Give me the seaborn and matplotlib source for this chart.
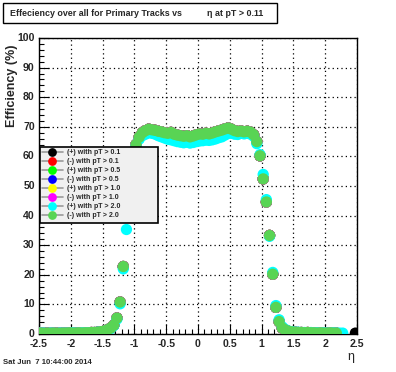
import numpy as np
import pandas as pd
import matplotlib
matplotlib.use("Agg")
import matplotlib.pyplot as plt
import seaborn as sns
from matplotlib.lines import Line2D
from matplotlib.patches import Rectangle
from matplotlib.ticker import MultipleLocator

# eta bin centres (100 bins of 0.05 between -2.5 and 2.5)
eta_bins = np.linspace(-2.475, 2.475, 100)

# (-) with pT > 2.0  (drawn last, on top)
eff_neg_pt20 = [
    0.3, 0.2, 0.3, 0.2, 0.3, 0.3, 0.2, 0.3, 0.3, 0.4, 0.3, 0.3, 0.4, 0.3, 0.4,
    0.4, 0.5, 0.5, 0.6, 0.8, 1.0, 1.4, 2.0, 3.0, 5.4, 10.8, 22.8, 40.0, 49.0, 59.0, 64.0, 66.5,
    68.0, 68.7, 69.2, 69.0, 68.8, 68.5, 68.3, 68.0, 67.8, 68.1, 67.5, 67.2, 67.0, 66.8, 67.0, 66.6,
    66.9, 67.3, 67.6, 67.5, 67.8, 67.6, 67.9, 68.3, 68.6, 68.9, 69.3, 69.6, 69.2, 68.7, 68.4, 68.6,
    68.3, 68.5, 68.2, 67.3,
    65.0, 60.2, 52.4, 44.6, 33.3, 20.2, 9.0, 4.2, 2.0, 1.3, 0.9, 0.7,
    0.6, 0.5, 0.5, 0.4, 0.5, 0.4, 0.4, 0.3, 0.4, 0.3, 0.3, 0.4, 0.3, 0.3,
    np.nan, np.nan, np.nan, np.nan, np.nan, np.nan,
]

# (+) with pT > 2.0
eff_pos_pt20 = [
    0.3, 0.3, 0.2, 0.3, 0.3, 0.2, 0.3, 0.3, 0.3, 0.3, 0.4, 0.3, 0.3, 0.4, 0.4,
    0.4, 0.4, 0.5, 0.6, 0.7, 0.9, 1.3, 1.8, 2.8, 5.0, 10.2, 22.0, 35.3, 48.0, 58.5, 63.5, 65.8,
    67.0, 67.5, 68.0, 67.8, 67.5, 67.0, 66.6, 66.2, 65.8, 65.6, 65.3, 65.0, 64.8, 64.6, 64.8, 64.5,
    64.7, 65.0, 65.2, 65.3, 65.5, 65.4, 65.6, 65.9, 66.3, 66.6, 67.2, 67.8, 67.8, 67.5, 67.4, 67.8,
    67.6, 67.9, 67.5, 66.8,
    64.3, 60.6, 53.9, 45.4, 33.0, 20.8, 9.6, 4.8, 2.4, 1.5, 1.0, 0.8,
    0.6, 0.6, 0.5, 0.5, 0.4, 0.5, 0.4, 0.4, 0.3, 0.4, 0.3, 0.3, 0.4, 0.3, 0.3, 0.3,
    np.nan, np.nan, np.nan, np.nan,
]

# lower pT cuts sit underneath the pT > 2.0 points
eff_low_pt = list(eff_neg_pt20)
eff_pos_pt01 = eff_low_pt[:99] + [0.3]

series_labels = [
    "(+) with pT > 0.1", "(-) with pT > 0.1",
    "(+) with pT > 0.5", "(-) with pT > 0.5",
    "(+) with pT > 1.0", "(-) with pT > 1.0",
    "(+) with pT > 2.0", "(-) with pT > 2.0",
]
series_colors = ["#000000", "#ff0000", "#00ff00", "#0000ff",
                 "#ffff00", "#ff00ff", "#00ffff", "#59d454"]
series_values = [eff_pos_pt01, eff_low_pt, eff_low_pt, eff_low_pt,
                 eff_low_pt, eff_low_pt, eff_pos_pt20, eff_neg_pt20]

frames = []
for lab, vals in zip(series_labels, series_values):
    frames.append(pd.DataFrame({"eta": eta_bins, "eff": vals, "series": lab}))
df = pd.concat(frames, ignore_index=True).dropna()

sns.set_theme(style="white")
plt.rcParams['font.family'] = ['Liberation Sans', 'DejaVu Sans']

W, H = 396, 372
fig = plt.figure(figsize=(W / 100, H / 100), dpi=100)
fig.patch.set_facecolor("white")
ax = fig.add_axes([39 / W, 1 - 334 / H, (357 - 39) / W, (334 - 38) / H])

sns.scatterplot(data=df, x="eta", y="eff", hue="series", hue_order=series_labels,
                palette=series_colors, s=66, linewidth=0, legend=False, ax=ax, zorder=3)

ax.set_xlim(-2.5, 2.5)
ax.set_ylim(0, 100)
ax.xaxis.set_major_locator(MultipleLocator(0.5))
ax.xaxis.set_minor_locator(MultipleLocator(0.1))
ax.yaxis.set_major_locator(MultipleLocator(10))
ax.yaxis.set_minor_locator(MultipleLocator(2))
ax.tick_params(which="both", direction="in", color="black", width=0.8,
               bottom=True, left=True, top=False, right=False)
ax.tick_params(which="major", length=7)
ax.tick_params(which="minor", length=3.5)
ax.tick_params(axis="y", which="major", pad=3)
ax.tick_params(axis="x", which="major", pad=3.5)
ax.set_xticks(ax.get_xticks())
ax.set_xticklabels([f"{t:g}" for t in ax.get_xticks()], fontsize=7.6, fontweight="bold")
ax.set_yticks(ax.get_yticks())
ax.set_yticklabels([f"{t:g}" for t in ax.get_yticks()], fontsize=7.6, fontweight="bold",
                   va="center")
ax.set_xlim(-2.5, 2.5)
ax.set_ylim(0, 100)
ax.grid(True, which="major", color="black", linestyle=(0, (1, 2.5)), linewidth=0.9)
ax.set_axisbelow(True)
for sp in ax.spines.values():
    sp.set_color("black")
    sp.set_linewidth(1)
ax.set_xlabel("")
ax.set_ylabel("")
# lift the "0" on the y axis a little so it clears "-2.5"
ax.get_yticklabels()[0].set_va("bottom")

# axis titles placed like ROOT (right / top aligned)
fig.text(351 / W, 1 - 357 / H, "η", ha="center", va="center", fontsize=9)
fig.text(12 / W, 1 - 86 / H, "Efficiency (%)", rotation=90, ha="center", va="center",
         fontsize=9, fontweight="bold")

# title box
fig.patches.append(Rectangle((3 / W, 1 - 23 / H), 274 / W, 20 / H, transform=fig.transFigure,
                             facecolor="white", edgecolor="black", linewidth=1, zorder=4))
fig.text(10 / W, 1 - 13 / H, "Effeciency over all for Primary Tracks vs", ha="left", va="center",
         fontsize=6.4, fontweight="bold", zorder=5)
fig.text(207 / W, 1 - 13 / H, "η at pT > 0.11", ha="left", va="center",
         fontsize=6.4, fontweight="bold", zorder=5)

# legend box
fig.patches.append(Rectangle((40 / W, 1 - 223 / H), 118 / W, 76 / H, transform=fig.transFigure,
                             facecolor="#f0f0f0", edgecolor="black", linewidth=1.2, zorder=4))
handles = [Line2D([0], [0], color="#9a9a9a", lw=1.2, marker="o", markersize=6.3,
                  markerfacecolor=c, markeredgewidth=0) for c in series_colors]
leg = fig.legend(handles, series_labels, loc="upper left", bbox_to_anchor=(41 / W, 1 - 148 / H),
                 frameon=False, prop={"size": 5.0, "weight": "bold"}, handlelength=2.9,
                 handletextpad=0.7, labelspacing=0.28, borderpad=0.2, borderaxespad=0)
leg.set_zorder(6)

fig.text(3 / W, 1 - 363 / H, "Sat Jun  7 10:44:00 2014", ha="left", va="center",
         fontsize=5.6, fontweight="bold")

fig.savefig("out.png", dpi=100)
